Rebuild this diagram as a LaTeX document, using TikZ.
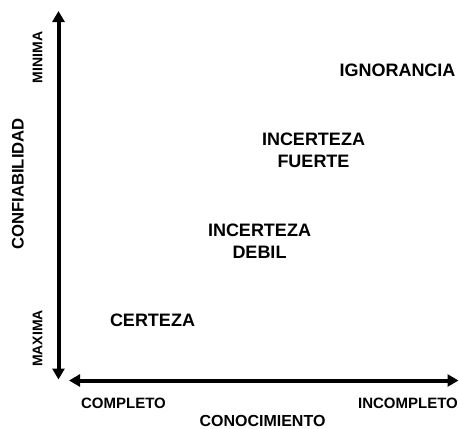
\documentclass[tikz,border=0pt]{standalone}
\usepackage{fontspec}
\setmainfont{Liberation Sans}
\usetikzlibrary{arrows.meta}
\tikzset{
  axis/.style={line width=4pt, {Triangle[width=12pt,length=11pt]}-{Triangle[width=12pt,length=11pt]}},
  big/.style={inner sep=0pt, align=center, font=\fontsize{18}{22}\selectfont\bfseries},
  small/.style={inner sep=0pt, align=center, font=\fontsize{15}{18}\selectfont\bfseries},
  tiny/.style={inner sep=0pt, font=\fontsize{14}{17}\selectfont\bfseries, rotate=90},
}
\begin{document}
\begin{tikzpicture}[x=1pt,y=1pt]
\useasboundingbox (0,0) rectangle (459,-429);
\coordinate (ytop) at (58.5,-11);
\coordinate (ybot) at (58.5,-379.5);
\coordinate (xleft) at (69,-380.5);
\coordinate (xright) at (458.5,-380.5);
\draw[axis] (ybot) -- (ytop);
\draw[axis] (xleft) -- (xright);
\node[tiny] (minima) at (37.5,-57.5) {MINIMA};
\node[tiny] (maxima) at (37.5,-338.5) {MAXIMA};
\node[inner sep=0pt, font=\fontsize{16.7}{20}\selectfont\bfseries, rotate=90] (conf) at (18,-184) {CONFIABILIDAD};
\node[big] (ign) at (397.5,-70) {IGNORANCIA};
\node[big] (fuerte) at (313.5,-150.4) {INCERTEZA\\FUERTE};
\node[big] (debil) at (259.5,-241.7) {INCERTEZA\\DEBIL};
\node[big] (cert) at (152.5,-320.5) {CERTEZA};
\node[small] (comp) at (123.5,-403.5) {COMPLETO};
\node[small] (incomp) at (408,-403) {INCOMPLETO};
\node[inner sep=0pt, font=\fontsize{16}{19}\selectfont\bfseries] (conoc) at (262.5,-420.5) {CONOCIMIENTO};
\end{tikzpicture}
\end{document}
